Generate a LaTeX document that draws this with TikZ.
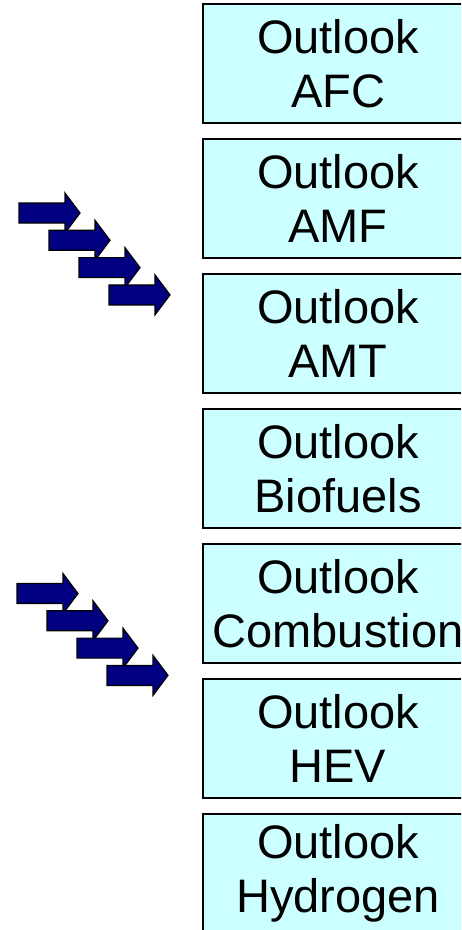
\documentclass[tikz,border=0pt]{standalone}
\usepackage{fontspec}
\setmainfont{Liberation Sans}
\usepackage{tikz}
\usetikzlibrary{positioning}

\definecolor{boxcyan}{RGB}{204,255,255}
\definecolor{arrownavy}{RGB}{0,0,128}

\tikzset{
  outlook/.style={draw=black, line width=1.4pt, fill=boxcyan,
    minimum width=270pt, minimum height=119pt, inner sep=0pt, outer sep=0pt,
    align=center, font=\fontsize{47}{54}\selectfont},
  stairarrow/.style={draw=black, line width=1.2pt, fill=arrownavy, line join=miter}
}

\begin{document}
\begin{tikzpicture}[x=1pt,y=-1pt]
    \def\bl{46}
    \def\hl{15}
    \def\bw{10}
    \def\hw{20}

    \useasboundingbox (0,0) rectangle (461,930) ;
    \clip (0,0) rectangle (461,930) ;

    \node [outlook] (afc) at (338,63.5) {Outlook\\AFC} ;
    \node [outlook, below=16pt of afc] (amf) {Outlook\\AMF} ;
    \node [outlook, below=16pt of amf] (amt) {Outlook\\AMT} ;
    \node [outlook, below=16pt of amt] (bio) {Outlook\\Biofuels} ;
    \node [outlook, below=16pt of bio] (comb) {Outlook\\Combustion} ;
    \node [outlook, below=16pt of comb] (hev) {Outlook\\HEV} ;
    \node [outlook, below=16pt of hev] (hyd) {Outlook\\Hydrogen} ;

    \foreach \x/\y in {19/213, 17/593.5} {
      \foreach \k in {0,...,3} {
        \draw [stairarrow] (\x+30*\k,\y+27.3*\k-\bw) -- ++(\bl,0) -- ++(0,-\hw+\bw)
          -- ++(\hl,\hw) -- ++(-\hl,\hw) -- ++(0,-\hw+\bw) -- ++(-\bl,0) -- cycle ;
      }
    }

\end{tikzpicture}
\end{document}
